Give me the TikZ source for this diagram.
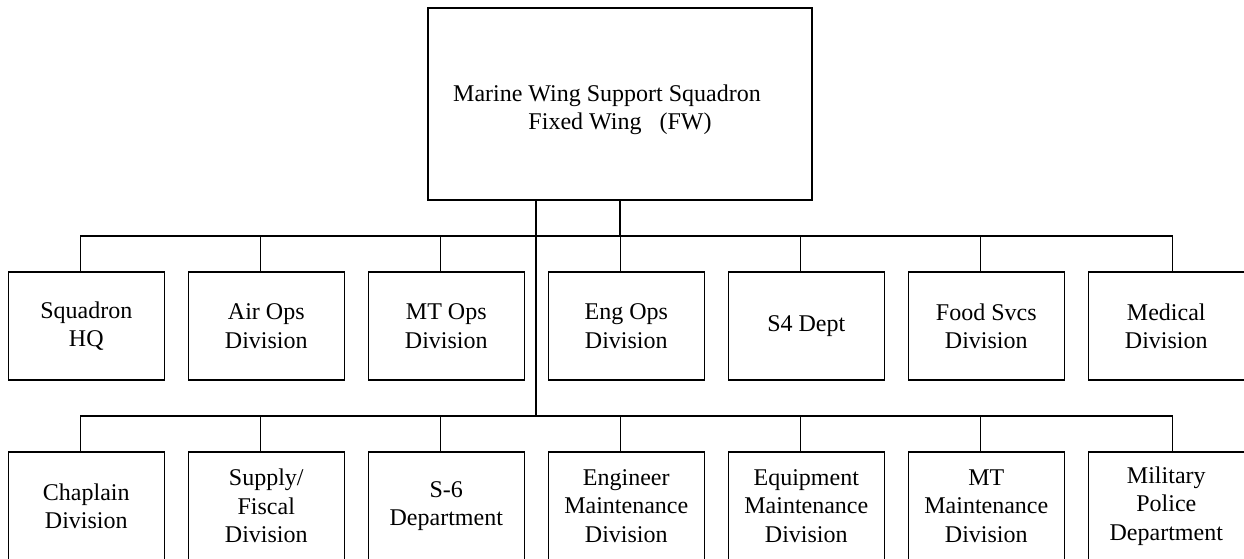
\documentclass[tikz,border=0pt]{standalone}
\usepackage{fontspec}
\setmainfont{Liberation Serif}
\usetikzlibrary{positioning}

\begin{document}
\begin{tikzpicture}[
    x=0.5pt, y=-0.5pt,
    font=\fontsize{12}{14.2}\selectfont,
    base/.style={
      draw, align=center, rectangle,
      line width=0.7pt, inner sep=2pt
    },
    head/.style={
      base, minimum width=192pt, minimum height=96pt
    },
    unit/.style={
      base, minimum width=78pt, minimum height=54pt
    },
    link/.style={line width=0.7pt}
  ]

    \useasboundingbox (0,0) rectangle (1244,558);

    % --- Squadron ---
    \node[head] (sqdn) at (620,104)
    {\rule{0pt}{14pt}Marine Wing Support Squadron\hspace*{13pt}\\
     Fixed Wing\ \ \ (FW)};

    % --- Upper row ---
    \node[unit] (hq)   at (86.3,326)   {Squadron\\HQ};
    \node[unit] (air)  at (266.3,326)  {Air Ops\\Division};
    \node[unit] (mtop) at (446.3,326)  {MT Ops\\Division};
    \node[unit] (eng)  at (626.3,326)  {Eng Ops\\Division};
    \node[unit] (sfour) at (806.3,326) {S4 Dept};
    \node[unit] (food) at (986.3,326)  {Food Svcs\\Division};
    \node[unit] (med)  at (1166.3,326) {Medical\\Division};

    % --- Lower row ---
    \node[unit] (chap) at (86.3,506)   {Chaplain\\Division};
    \node[unit] (sup)  at (266.3,506)  {Supply/\\Fiscal\\Division};
    \node[unit] (ssix) at (446.3,506)  {S-6\\Department};
    \node[unit] (engm) at (626.3,506)  {Engineer\\Maintenance\\Division};
    \node[unit] (eqm)  at (806.3,506)  {Equipment\\Maintenance\\Division};
    \node[unit] (mtm)  at (986.3,506)  {MT\\Maintenance\\Division};
    \node[unit] (mp)   at (1166.3,506) {Military\\Police\\Department};

    % --- Bus points ---
    \coordinate (busup) at (620,236);
    \coordinate (buslo) at (536,416);

    % --- Trunks from the squadron ---
    \draw[link] (sqdn.south -| busup) -- (busup);
    \draw[link] (sqdn.south -| buslo) -- (buslo);

    % --- Drops to the rows ---
    \foreach \n/\dx in {hq/-3, air/-3, mtop/-3, eng/-3, sfour/-3, food/-3, med/3}
      \draw[link] ([xshift=\dx pt]\n.north) |- (busup);
    \foreach \n/\dx in {chap/-3, sup/-3, ssix/-3, engm/-3, eqm/-3, mtm/-3, mp/3}
      \draw[link] ([xshift=\dx pt]\n.north) |- (buslo);

  \end{tikzpicture}
\end{document}
